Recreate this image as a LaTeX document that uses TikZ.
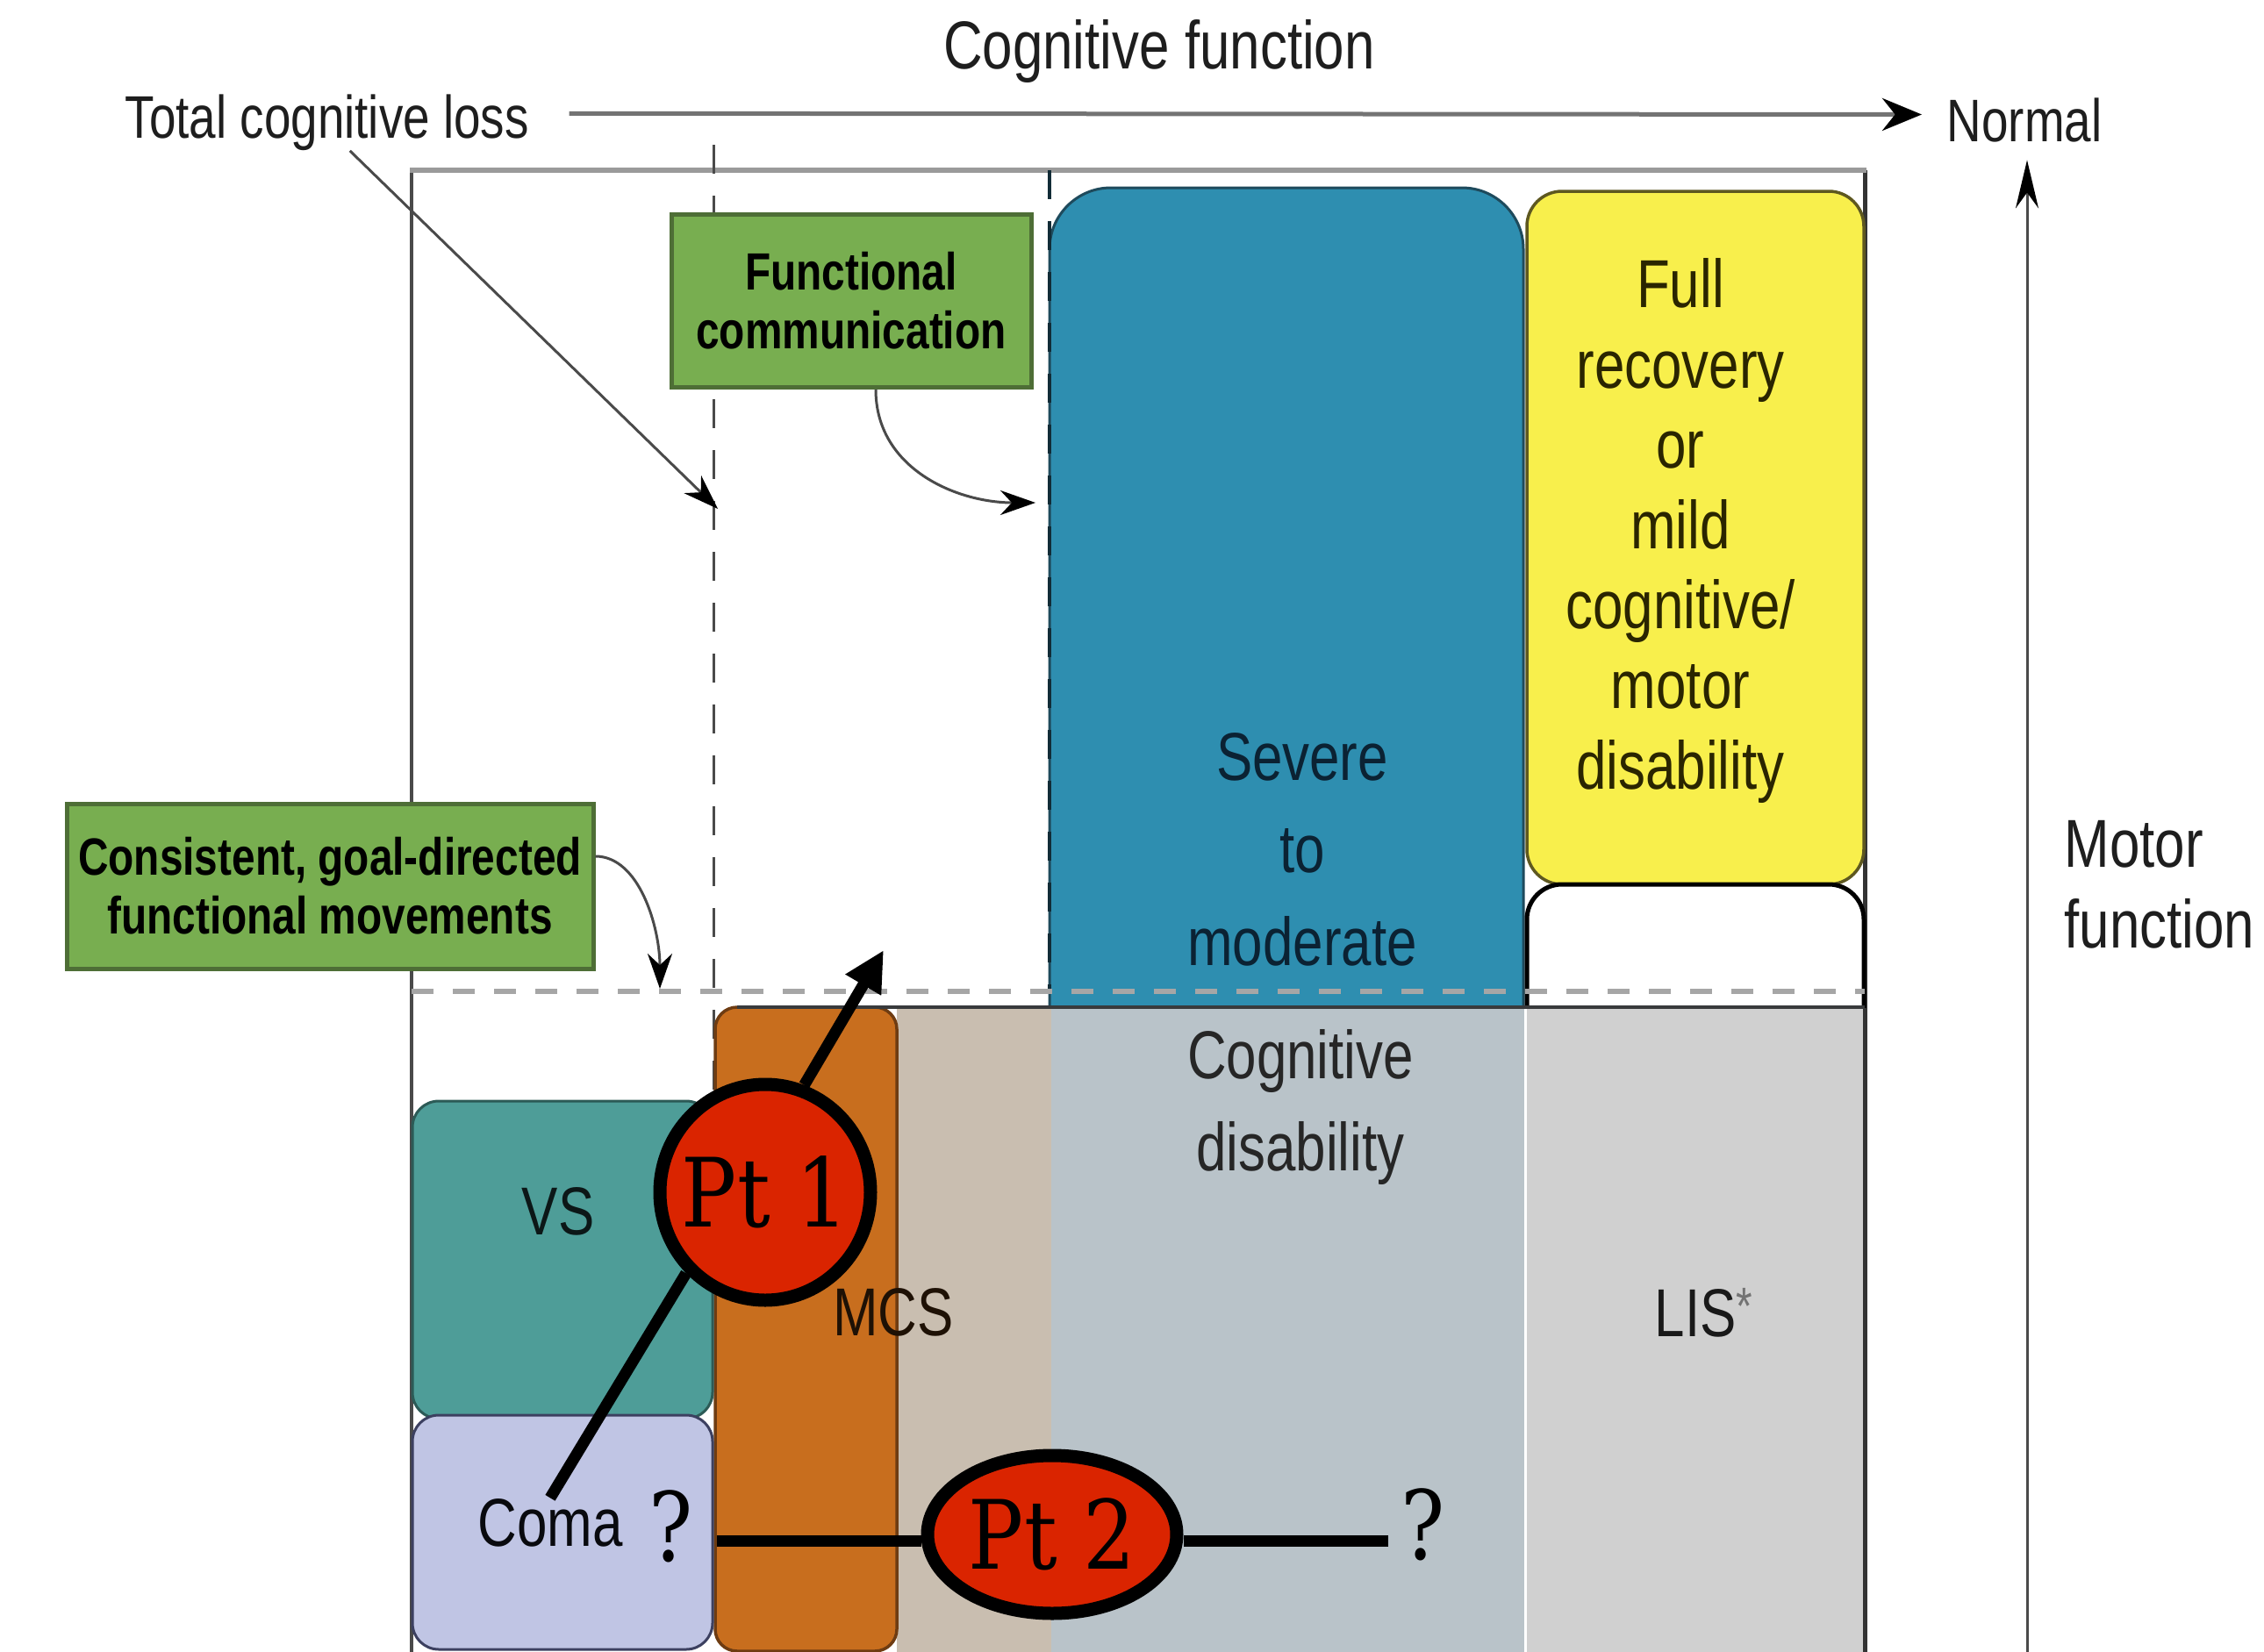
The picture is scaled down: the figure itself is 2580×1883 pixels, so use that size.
\documentclass[tikz,border=0pt]{standalone}
\usepackage{fontspec}
\usepackage{tikz}
\usetikzlibrary{shapes.geometric, arrows.meta, positioning, calc}
\newfontfamily\diagfont[FakeStretch=0.8]{Liberation Sans}
\newfontfamily\ptfont[FakeStretch=0.86]{DejaVu Serif}
\definecolor{severeblue}{HTML}{2E8EB0}
\definecolor{severeedge}{HTML}{1E4A5C}
\definecolor{severetext}{HTML}{0B2233}
\definecolor{fullyellow}{HTML}{F8EF4C}
\definecolor{yellowedge}{HTML}{5E5820}
\definecolor{yellowtext}{HTML}{2A2500}
\definecolor{boxgreen}{HTML}{78AE50}
\definecolor{greenedge}{HTML}{4E6E36}
\definecolor{mcsorange}{HTML}{C86E1E}
\definecolor{mcsedge}{HTML}{6E3C12}
\definecolor{mcstan}{HTML}{C9BEB0}
\definecolor{cogslate}{HTML}{B9C3C9}
\definecolor{lisgray}{HTML}{D0D0D0}
\definecolor{vsteal}{HTML}{4E9D98}
\definecolor{vsedge}{HTML}{2C5A56}
\definecolor{comalilac}{HTML}{C0C5E4}
\definecolor{comaedge}{HTML}{3C4060}
\definecolor{ptred}{HTML}{DA2400}
\definecolor{framegray}{HTML}{9A9A9A}
\definecolor{linegray}{HTML}{4A4A4A}
\definecolor{labelgray}{HTML}{1E1E1E}
\definecolor{dashgray}{HTML}{A6A6A6}

\begin{document}
\begin{tikzpicture}[x=0.1mm, y=-0.1mm,
    region/.style={inner sep=0pt, align=center, font=\diagfont\fontsize{22pt}{30pt}\selectfont},
    axislabel/.style={inner sep=0pt, text=labelgray, font=\diagfont\fontsize{19.5pt}{26pt}\selectfont},
    greenbox/.style={rectangle, draw=greenedge, line width=0.5mm, fill=boxgreen, inner sep=0pt,
                     align=center, font=\diagfont\bfseries\fontsize{17pt}{19pt}\selectfont},
    ptmark/.style={ellipse, draw=black, line width=1.5mm, fill=ptred, inner xsep=-2mm, inner ysep=0pt,
                   font=\ptfont\fontsize{31pt}{31pt}\selectfont},
    qmark/.style={inner sep=0pt, font=\ptfont\fontsize{31pt}{31pt}\selectfont},
    ptline/.style={line width=1.3mm, black},
    thinarrow/.style={-{Stealth[length=4mm, width=2.8mm, color=black]}, line width=0.3mm, draw=linegray},
    dashv/.style={dash pattern=on 3.3mm off 2.5mm, line width=0.3mm}
]
\useasboundingbox (0,0) rectangle (2580,1883);
\clip (0,0) rectangle (2580,1883);

% frame and guides
\draw[linegray, line width=0.35mm] (469,194) -- (469,1890);
\draw[black!80, line width=0.5mm] (2125,194) -- (2125,1890);
\draw[framegray, line width=0.6mm] (467,194) -- (2127,194);
\draw[dashv, linegray] (813,165) -- (813,1255);

% upper regions
\begin{scope}
\clip (0,0) rectangle (2580,1148);
\draw[severeedge, line width=0.3mm, fill=severeblue, rounded corners=7mm] (1196,214) rectangle (1736,1260);
\draw[yellowedge, line width=0.35mm, fill=fullyellow, rounded corners=4mm] (1740,218) rectangle (2124,1008);
\draw[black, line width=0.5mm, fill=white, rounded corners=4mm] (1740,1008) rectangle (2124,1260);
\end{scope}
\draw[dashv, severeedge!60!black, line width=0.4mm] (1196,194) -- (1196,1130);
\draw[dashgray, line width=0.55mm, dash pattern=on 2.5mm off 2.2mm] (469,1130) -- (2125,1130);

% lower band
\fill[mcstan] (1022,1148) rectangle (1198,1890);
\fill[cogslate] (1198,1148) rectangle (1737,1890);
\fill[lisgray] (1740,1148) rectangle (2123,1890);
\draw[mcsedge, line width=0.35mm, fill=mcsorange, rounded corners=2.5mm] (815,1148) rectangle (1022,1882);
\draw[black!70!cogslate, line width=0.4mm] (840,1148) -- (2125,1148);
\draw[vsedge, line width=0.3mm, fill=vsteal, rounded corners=3mm] (470,1255) rectangle (812,1617);
\draw[comaedge, line width=0.3mm, fill=comalilac, rounded corners=3mm] (470,1613) rectangle (812,1880);

% axis labels
\node[axislabel, anchor=base, font=\diagfont\fontsize{22pt}{26pt}\selectfont] (cogfn) at (1321,78) {Cognitive function};
\node[axislabel, anchor=base west] (tcl) at (142,157) {Total cognitive loss};
\node[axislabel, anchor=base west] (normal) at (2218,161) {Normal};
\node[axislabel, anchor=north west, align=left, font=\diagfont\fontsize{22pt}{26pt}\selectfont] (motor) at (2352,935) {Motor\\function};
\coordinate (vbase) at (2310,1890);

\draw[line width=0.5mm, draw=black!55, -{Stealth[length=4.5mm, width=3.7mm, color=black]}]
    ([xshift=4.5mm, yshift=1mm]tcl.east) -- ([xshift=-2.8mm, yshift=0.6mm]normal.west);
\draw[line width=0.3mm, draw=linegray, -{Stealth[length=5.5mm, width=2.6mm, color=black]}]
    (vbase) -- ($(vbase |- normal.south)+(0,20)$);

% region labels
\node[region, text=severetext] (severe) at (1484,968) {Severe\\to\\moderate};
\node[region, text=yellowtext, font=\diagfont\fontsize{22pt}{26pt}\selectfont] (fullrec) at (1915,605)
    {Full\\recovery\\or\\mild\\cognitive/\\motor\\disability};
\node[region, text=black!85] (cogdis) at (1482,1262) {Cognitive\\disability};
\node[region, anchor=base, text=black!85!vsteal] (vs) at (636,1407) {VS};
\node[region, anchor=base, text=black!85!mcsorange] (mcs) at (1018,1522) {MCS};
\node[region, anchor=base, text=black!85!comaedge] (coma) at (627,1762) {Coma};
\node[region, anchor=base west, text=black!90] (lis) at (1885,1523)
    {LIS\raisebox{1.4mm}{\textcolor{black!55}{\fontsize{17pt}{17pt}\selectfont *}}};

% criteria boxes
\node[greenbox, minimum width=41mm, minimum height=19.7mm] (fc) at (970,343) {Functional\\communication};
\node[greenbox, minimum width=60mm, minimum height=18.8mm] (cg) at (376,1010) {Consistent, goal-directed\\functional movements};

\coordinate (lossmark) at (818,580);
\coordinate (fctip) at (1180,573);
\coordinate (cgtip) at (752,1127);
\draw[thinarrow] ([xshift=2.6mm]tcl.south) -- (lossmark);
\draw[thinarrow] ([xshift=2.8mm]fc.south) .. controls +(0,90) and +(-90,0) .. (fctip);
\draw[thinarrow] ([yshift=3.4mm]cg.east) .. controls +(50,0) and +(0,-70) .. (cgtip);

% patients
\node[ptmark, minimum width=24mm, minimum height=24.6mm] (pt1) at (872,1359) {Pt 1};
\node[ptmark, minimum width=28.4mm, minimum height=18mm] (pt2) at (1199,1749) {Pt 2};
\node[qmark, anchor=base] (qleft) at (765,1779) {?};
\node[qmark, anchor=base] (qright) at (1622,1777) {?};
\coordinate (pt1tip) at (1007,1083);
\coordinate (pt2west) at (817,1756);
\coordinate (pt2east) at (1582,1756);

\draw[ptline] (coma.north) -- (pt1.south west);
\draw[ptline, -{Triangle[length=4.6mm, width=4.4mm]}] (pt1.70) -- (pt1tip);
\draw[ptline] (pt2west) -- (pt2west -| pt2.west);
\draw[ptline] (pt2east -| pt2.east) -- (pt2east);
\end{tikzpicture}
\end{document}
